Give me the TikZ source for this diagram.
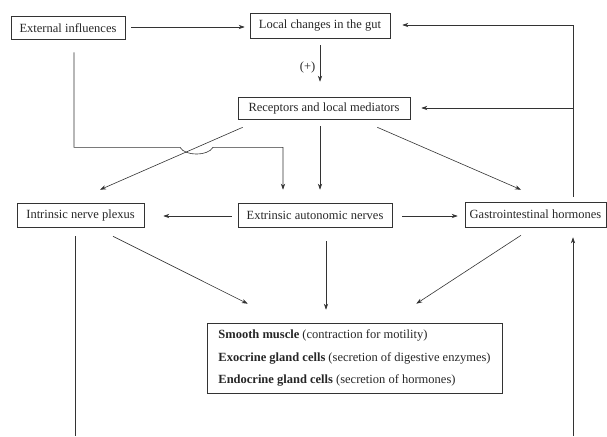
\documentclass[tikz,border=0pt]{standalone}
\usepackage{fontspec}
\setmainfont{Liberation Serif}
\usetikzlibrary{arrows.meta,calc}
\begin{document}
\begin{tikzpicture}[x=1pt,y=-1pt,
  every node/.style={font=\fontsize{12.5}{15}\selectfont, text=black!85},
  box/.style={draw=black!80, line width=0.6pt, inner sep=0pt},
  ln/.style={draw=black!80, line width=0.6pt},
  arr/.style={ln, -{Stealth[length=6pt,width=4.2pt]}}]
\useasboundingbox (0,0) rectangle (607,436);
% nodes
\node[box, minimum width=114pt, minimum height=23pt] (ext) at (68,28) {External influences};
\node[box, minimum width=140pt, minimum height=25pt] (local) at (320,25.5) {Local changes in the gut};
\node[box, minimum width=172pt, minimum height=22pt] (rec) at (324,108) {Receptors and local mediators};
\node[box, minimum width=127pt, minimum height=24pt] (intr) at (80.5,215) {Intrinsic nerve plexus};
\node[box, minimum width=154pt, minimum height=24pt] (extr) at (315,215) {Extrinsic autonomic nerves};
\node[box, minimum width=141pt, minimum height=25pt] (gastro) at (535.5,214.5) {Gastrointestinal hormones};
\node[box, minimum width=295pt, minimum height=70pt, align=left, font=\fontsize{12.5}{22.5}\selectfont] (smooth) at (354.5,358)
  {\textbf{Smooth muscle} (contraction for motility)\\
   \textbf{Exocrine gland cells} (secretion of digestive enzymes)\\
   \textbf{Endocrine gland cells} (secretion of hormones)};
\coordinate (gb) at (573,436);
% connectors
\draw[arr] ($(ext.east)+(6,-1)$) -- ($(local.west)+(-5,1.5)$);
\draw[arr] ($(gastro.north)+(37.5,-5)$) coordinate (rt) |- ($(local.east)+(12,-0.5)$);
\draw[arr] (rt |- rec.east) -- ($(rec.east)+(11,0)$);
\draw[arr] ($(local.south)+(0,7)$) -- node[pos=0.62, left=1pt] {(+)} ($(rec.north)+(-4,-15)$);
\draw[arr] ($(rec.south)+(-4,7)$) -- ($(extr.north)+(5,-13)$);
\draw[arr] ($(ext.south)+(6,12.5)$) -- ++(0,95) -- ++(106,0)
   .. controls +(5,9) and +(-5,9) .. ++(33,0) -- ++(70,0) -- ($(extr.north)+(-32,-13)$);
\draw[arr] ($(rec.south west)+(5,8)$) -- ($(intr.north)+(19.5,-13)$);
\draw[arr] ($(rec.south east)+(-33,8)$) -- ($(gastro.north)+(-14.5,-12)$);
\draw[arr] ($(extr.west)+(-6,1)$) -- ($(intr.east)+(19,1)$);
\draw[arr] ($(extr.east)+(10,1)$) -- ($(gastro.west)+(-7,1.5)$);
\draw[arr] ($(intr.south)+(32.5,9)$) -- ($(smooth.north west)+(41,-19)$);
\draw[arr] ($(extr.south)+(11,14)$) -- ($(smooth.north)+(-28.5,-13)$);
\draw[arr] ($(gastro.south)+(-14.5,8)$) -- ($(smooth.north east)+(-86,-19)$);
\draw[ln] ($(intr.south)+(-5.5,9)$) -- ++(0,200);
\draw[arr] (gb) -- ($(gastro.south)+(37.5,10)$);
\end{tikzpicture}
\end{document}
